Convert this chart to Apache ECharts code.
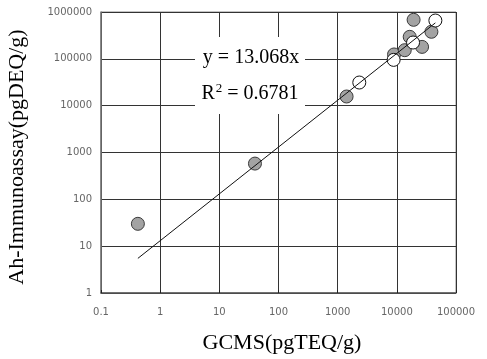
<!DOCTYPE html>
<html>
<head>
<meta charset="utf-8">
<script src="https://cdn.jsdelivr.net/npm/echarts@6/dist/echarts.min.js"></script>
<style>
html,body{margin:0;padding:0;background:#fff;}
#chart{width:487px;height:359px;}
</style>
</head>
<body>
<div id="chart"></div>
<script>
// Data
var grayPoints = [
  [0.42, 30],
  [40, 580],
  [1415, 15700],
  [8970, 124000],
  [13600, 153000],
  [16500, 295000],
  [19200, 681000],
  [26700, 180000],
  [38400, 378000]
];
var whitePoints = [
  [2320, 31200],
  [8830, 95000],
  [18800, 223000],
  [44800, 658000]
];
var trendSlope = 13.068;
var trendXRange = [0.42, 44800];
var xTickLabels = ['0.1', '1', '10', '100', '1000', '10000', '100000'];
var yTickLabels = ['1', '10', '100', '1000', '10000', '100000', '1000000'];
var eqText = 'y = 13.068x';
var r2Value = '0.6781';
var xTitle = 'GCMS(pgTEQ/g)';
var yTitle = 'Ah-Immunoassay(pgDEQ/g)';

var trendLine = trendXRange.map(function (x) { return [x, trendSlope * x]; });

var chart = echarts.init(document.getElementById('chart'), null, {renderer: 'canvas'});
var labelFont = {fontFamily: 'DejaVu Sans', fontSize: 10, color: '#666'};
var option = {
  animation: false,
  backgroundColor: '#fff',
  grid: {left: 101, right: 31, top: 12, bottom: 66, show: true, borderColor: '#888', borderWidth: 1, backgroundColor: 'transparent'},
  xAxis: {
    type: 'log', logBase: 10, min: 0.1, max: 100000,
    axisLine: {show: true, lineStyle: {color: '#555', width: 1.5}},
    axisTick: {show: true, inside: true, length: 3, lineStyle: {color: '#222'}},
    splitLine: {show: true, lineStyle: {color: '#333', width: 1}},
    minorTick: {show: false},
    axisLabel: Object.assign({margin: 14, formatter: function (v) {
      var i = Math.round(Math.log10(v)) + 1; return xTickLabels[i] || '';
    }}, labelFont)
  },
  yAxis: {
    type: 'log', logBase: 10, min: 1, max: 1000000,
    axisLine: {show: true, lineStyle: {color: '#777', width: 1.5}},
    axisTick: {show: false},
    splitLine: {show: true, lineStyle: {color: '#333', width: 1}},
    axisLabel: Object.assign({margin: 9, formatter: function (v) {
      var i = Math.round(Math.log10(v)); return yTickLabels[i] || '';
    }}, labelFont)
  },
  series: [
    {
      type: 'scatter', data: grayPoints, symbol: 'circle', symbolSize: 13, z: 3,
      itemStyle: {color: '#a3a3a3', borderColor: '#3a3a3a', borderWidth: 1, opacity: 1}
    },
    {
      type: 'scatter', data: whitePoints, symbol: 'circle', symbolSize: 13, z: 4,
      itemStyle: {color: '#ffffff', borderColor: '#111', borderWidth: 1, opacity: 1}
    },
    {
      type: 'line', data: trendLine, symbol: 'none', z: 5,
      lineStyle: {color: '#111', width: 1}
    }
  ],
  graphic: [
    {type: 'rect', left: 195, top: 37, shape: {width: 110, height: 77}, style: {fill: '#fff'}, z: 10},
    {type: 'text', x: 251, y: 58, z: 11,
      style: {text: eqText, fontFamily: 'Liberation Serif', fontSize: 20, fill: '#000', align: 'center', verticalAlign: 'middle'}},
    {type: 'text', x: 250, y: 93, z: 11,
      style: {
        text: '{n|R}{s|2}{n| = ' + r2Value + '}',
        align: 'center', verticalAlign: 'middle',
        rich: {
          n: {fontFamily: 'Liberation Serif', fontSize: 20, fill: '#000', verticalAlign: 'bottom', lineHeight: 22},
          s: {fontFamily: 'Liberation Serif', fontSize: 13, fill: '#000', verticalAlign: 'top', lineHeight: 22, padding: [0, 0, 8, 1]}
        }
      }},
    {type: 'text', x: 282, y: 343, z: 11,
      style: {text: xTitle, fontFamily: 'Liberation Serif', fontSize: 22, fill: '#000', align: 'center', verticalAlign: 'middle'}},
    {type: 'text', x: 17, y: 157, rotation: Math.PI / 2, z: 11,
      style: {text: yTitle, fontFamily: 'Liberation Serif', fontSize: 22, fill: '#000', align: 'center', verticalAlign: 'middle'}}
  ]
};
chart.setOption(option);
</script>
</body>
</html>
